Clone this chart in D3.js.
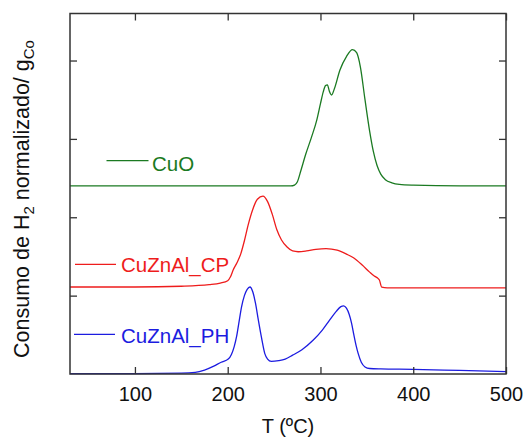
<!DOCTYPE html>
<html>
<head>
<meta charset="utf-8">
<script src="https://cdn.jsdelivr.net/npm/d3@7"></script>
<style>
  html, body { margin: 0; padding: 0; background: #fff; }
  svg { display: block; font-family: "Liberation Sans", Arial, sans-serif; }
</style>
</head>
<body>
<svg id="chart" width="526" height="438"></svg>
<script>
// TPR profiles: temperature (ºC) vs normalised H2 consumption (stacked offsets included)
const cuoT = [30, 150, 250, 268, 272, 275, 279, 284, 290, 296, 300, 303, 305.5, 307.5, 309.5, 312, 315, 321, 328, 334.5, 339, 343, 348, 353, 357, 361, 365, 370, 377, 385, 400, 450, 500];
const cuoV = [2.40, 2.40, 2.40, 2.40, 2.41, 2.45, 2.60, 2.80, 3.01, 3.24, 3.45, 3.60, 3.68, 3.69, 3.61, 3.56, 3.64, 3.88, 4.05, 4.14, 4.10, 3.92, 3.50, 3.10, 2.84, 2.66, 2.55, 2.48, 2.44, 2.42, 2.41, 2.40, 2.40];

const cpT = [30, 100, 150, 180, 192, 200, 203, 206, 210, 214, 218, 222, 227, 232, 238, 243, 248, 253, 258, 264, 270, 276, 285, 295, 306, 318, 328, 336, 345, 353, 358, 362, 363.5, 366, 372, 400, 450, 500];
const cpV = [1.11, 1.11, 1.12, 1.14, 1.16, 1.19, 1.24, 1.33, 1.42, 1.53, 1.70, 1.90, 2.10, 2.23, 2.27, 2.20, 2.04, 1.84, 1.71, 1.62, 1.57, 1.56, 1.57, 1.59, 1.60, 1.58, 1.53, 1.48, 1.39, 1.30, 1.25, 1.22, 1.20, 1.11, 1.10, 1.10, 1.10, 1.10];

const phT = [30, 100, 150, 165, 175, 185, 193, 200.6, 204, 207, 209.6, 212, 215, 218, 221, 224, 227, 230, 233, 236.5, 240, 243, 247, 255, 262, 270, 280, 292, 302, 310, 317, 322, 325, 328, 331, 333.5, 336, 338.5, 340.7, 344, 348, 353, 365, 400, 450, 500];
const phV = [0.005, 0.005, 0.01, 0.02, 0.05, 0.10, 0.15, 0.19, 0.25, 0.35, 0.48, 0.65, 0.86, 1.00, 1.08, 1.11, 1.05, 0.90, 0.69, 0.46, 0.26, 0.19, 0.16, 0.17, 0.19, 0.24, 0.31, 0.43, 0.56, 0.69, 0.80, 0.86, 0.87, 0.84, 0.76, 0.65, 0.50, 0.36, 0.26, 0.15, 0.09, 0.07, 0.065, 0.06, 0.045, 0.03];

const seriesNames = ["CuO", "CuZnAl_CP", "CuZnAl_PH"];
const seriesColors = ["#1b7a22", "#ee1c1c", "#1c1ce0"];
const xTicks = [100, 200, 300, 400, 500];
const yTicks = [1, 2, 3, 4];

const svg = d3.select("#chart");
const W = 526, H = 438;
const m = { left: 70, right: 20, top: 13.5, bottom: 64 };

const x = d3.scaleLinear().domain([30, 500]).range([m.left, W - m.right]);
const y = d3.scaleLinear().domain([0, 4.6]).range([H - m.bottom, m.top]);

const series = [
  { name: seriesNames[0], color: seriesColors[0], pts: d3.zip(cuoT, cuoV) },
  { name: seriesNames[1], color: seriesColors[1], pts: d3.zip(cpT, cpV) },
  { name: seriesNames[2], color: seriesColors[2], pts: d3.zip(phT, phV) }
];

const line = d3.line()
  .x(d => x(d[0]))
  .y(d => y(d[1]))
  .curve(d3.curveMonotoneX);

svg.append("g")
  .selectAll("path")
  .data(series)
  .join("path")
  .attr("d", d => line(d.pts))
  .attr("fill", "none")
  .attr("stroke", d => d.color)
  .attr("stroke-width", 1.3);

// axes with inward ticks on all four sides
const tickLen = 7;
const axisColor = "#333";

const axBottom = svg.append("g")
  .attr("transform", `translate(0,${H - m.bottom})`)
  .call(d3.axisBottom(x).tickValues(xTicks).tickSizeInner(-tickLen).tickSizeOuter(0).tickPadding(13));
const axTop = svg.append("g")
  .attr("transform", `translate(0,${m.top})`)
  .call(d3.axisTop(x).tickValues(xTicks).tickSizeInner(-tickLen).tickSizeOuter(0).tickFormat(""));
const axLeft = svg.append("g")
  .attr("transform", `translate(${m.left},0)`)
  .call(d3.axisLeft(y).tickValues(yTicks).tickSizeInner(-tickLen).tickSizeOuter(0).tickFormat(""));
const axRight = svg.append("g")
  .attr("transform", `translate(${W - m.right},0)`)
  .call(d3.axisRight(y).tickValues(yTicks).tickSizeInner(-tickLen).tickSizeOuter(0).tickFormat(""));

[axBottom, axTop, axLeft, axRight].forEach(g => {
  g.select(".domain").remove();
  g.selectAll(".tick line").attr("stroke", axisColor).attr("stroke-width", 1.3);
});
axBottom.selectAll(".tick text")
  .attr("font-size", 20)
  .attr("fill", "#111")
  .attr("font-family", "Liberation Sans, Arial, sans-serif");

// frame
svg.append("rect")
  .attr("x", m.left).attr("y", m.top)
  .attr("width", W - m.left - m.right)
  .attr("height", H - m.top - m.bottom)
  .attr("fill", "none")
  .attr("stroke", axisColor)
  .attr("stroke-width", 1.5);

// axis titles
svg.append("text")
  .attr("x", (m.left + W - m.right) / 2)
  .attr("y", 433)
  .attr("text-anchor", "middle")
  .attr("font-size", 20)
  .attr("fill", "#111")
  .text("T (ºC)");

const yl = svg.append("text")
  .attr("transform", "translate(28.5,199) rotate(-90)")
  .attr("text-anchor", "middle")
  .attr("font-size", 21.5)
  .attr("fill", "#111");
yl.append("tspan").text("Consumo de H");
yl.append("tspan").attr("font-size", 15).attr("dy", 5).text("2");
yl.append("tspan").attr("dy", -5).text(" normalizado/ g");
yl.append("tspan").attr("font-size", 15).attr("dy", 5).text("Co");

// in-plot legend entries
const legendPos = [
  { x1: 106.5, x2: 148.5, ly: 160.7, tx: 152, ty: 171 },
  { x1: 75, x2: 116, ly: 264.3, tx: 121, ty: 272 },
  { x1: 74, x2: 115, ly: 334.3, tx: 121, ty: 343.3 }
];
const leg = svg.append("g")
  .selectAll("g")
  .data(series)
  .join("g");
leg.append("line")
  .attr("x1", (d, i) => legendPos[i].x1)
  .attr("x2", (d, i) => legendPos[i].x2)
  .attr("y1", (d, i) => legendPos[i].ly)
  .attr("y2", (d, i) => legendPos[i].ly)
  .attr("stroke", d => d.color)
  .attr("stroke-width", 1.3);
leg.append("text")
  .attr("x", (d, i) => legendPos[i].tx)
  .attr("y", (d, i) => legendPos[i].ty)
  .attr("font-size", 20.5)
  .attr("fill", d => d.color)
  .text(d => d.name);
</script>
</body>
</html>
